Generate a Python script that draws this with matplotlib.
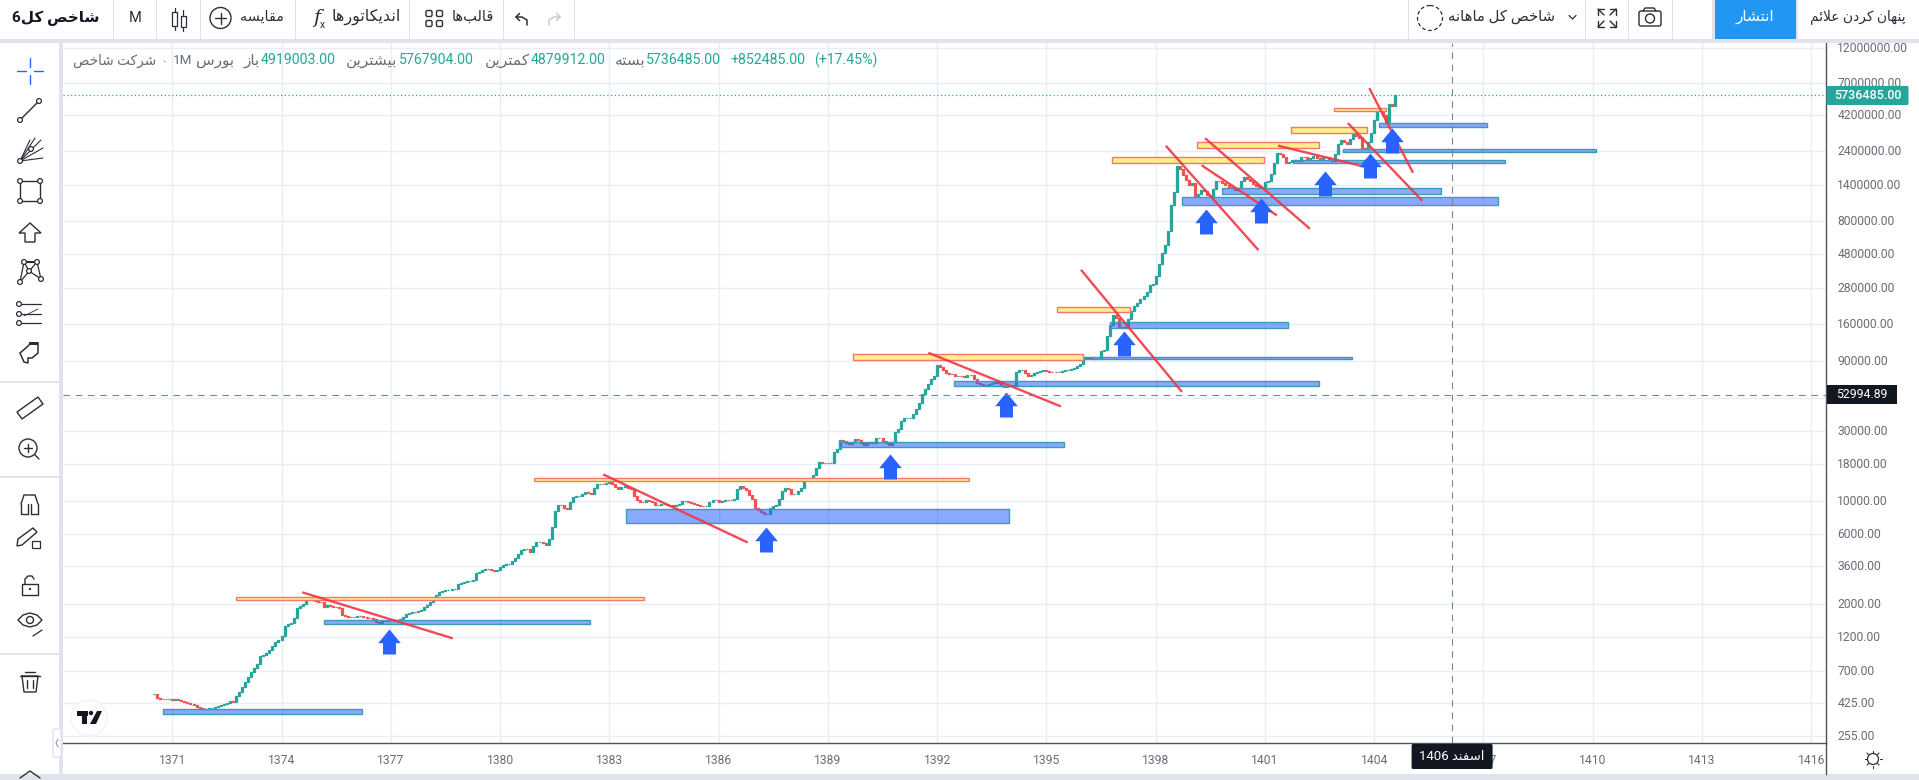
""" Monthly TEDPIX candles with hand drawn zones, recreated from a screenshot """
import re
import numpy as np
import matplotlib
matplotlib.use('Agg')
import matplotlib.pyplot as plt
from matplotlib.patches import Rectangle, Circle, Polygon, FancyBboxPatch
from matplotlib.path import Path
from matplotlib.transforms import ScaledTranslation

plt.rcParams['font.family'] = ['Roboto', 'DejaVu Sans']

# month closes, one row per 12 candles
closes = [
    486, 458, 452, 450, 450, 449, 447, 450, 445, 435, 430, 426,
    418, 412, 400, 392, 388, 388, 390, 395, 400, 404, 408, 415,
    425, 435, 433, 470, 505, 545, 590, 640, 690, 735, 775, 880,
    905, 930, 970, 1030, 1100, 1130, 1210, 1420, 1450, 1480, 1600, 1870,
    1950, 2000, 2120, 2130, 2170, 2090, 2060, 2050, 1920, 1960, 1950, 1920,
    1900, 1870, 1690, 1650, 1640, 1640, 1640, 1645, 1650, 1640, 1610, 1600,
    1590, 1500, 1480, 1540, 1540, 1550, 1550, 1555, 1545, 1590, 1640, 1700,
    1740, 1755, 1750, 1790, 1830, 1900, 1970, 2050, 2200, 2300, 2400, 2460,
    2470, 2500, 2510, 2520, 2750, 2780, 2830, 2860, 2880, 2910, 3250, 3300,
    3420, 3480, 3470, 3390, 3340, 3400, 3550, 3700, 3720, 3760, 3900, 4100,
    4350, 4680, 4750, 4740, 4500, 4950, 5250, 5300, 5200, 5050, 5550, 6650,
    8520, 9400, 9350, 8950, 8900, 9800, 10700, 10800, 10900, 11250, 11500, 11400,
    11200, 12300, 13000, 13100, 13000, 13300, 13400, 13000, 12500, 12000, 12400, 12600,
    12350, 12100, 10900, 10250, 9900, 9850, 10200, 10000, 9800, 9450, 9480, 9500,
    9500, 9480, 9400, 9300, 9450, 9600, 9950, 9950, 9820, 9700, 9550, 9400,
    9300, 9200, 9300, 9900, 10200, 10150, 9800, 10000, 10200, 10150, 10180, 10350,
    12000, 12700, 12200, 11900, 11000, 10400, 9050, 8700, 8400, 8150, 8200, 8950,
    9300, 9450, 10350, 11700, 12200, 12000, 11100, 11200, 11700, 12300, 14100, 14100,
    14100, 15000, 16700, 18400, 18200, 18100, 18100, 18150, 21500, 22700, 26100, 25800,
    25000, 24500, 25200, 26400, 25900, 25000, 24100, 24700, 25200, 24900, 26800, 26700,
    25700, 24800, 24100, 25400, 29500, 30800, 35000, 36900, 37000, 37000, 39000, 42000,
    46500, 53500, 57500, 62500, 68000, 71000, 84500, 82000, 78000, 74000, 73500, 73000,
    71000, 71000, 70500, 70200, 71500, 72000, 67500, 63800, 62500, 61500, 61800, 63000,
    64000, 66000, 63500, 61000, 60000, 60200, 60800, 62000, 75500, 77500, 78000, 74000,
    71000, 72500, 74000, 75500, 76500, 78000, 77000, 75800, 75500, 75300, 75800, 77000,
    78000, 78000, 79000, 81000, 83000, 85500, 92500, 95000, 94000, 92500, 92000, 92000,
    105000, 106000, 133000, 157000, 184000, 175000, 152000, 151000, 153000, 172000, 197000, 212000,
    222000, 238000, 250000, 263000, 295000, 298000, 340000, 412000, 484000, 550000, 690000, 1030000,
    1270000, 1890000, 1800000, 1650000, 1530000, 1400000, 1460000, 1170000, 1230000, 1300000, 1280000, 1200000,
    1190000, 1330000, 1510000, 1500000, 1450000, 1410000, 1360000, 1340000, 1310000, 1350000, 1500000, 1590000,
    1560000, 1510000, 1430000, 1390000, 1360000, 1370000, 1470000, 1500000, 1680000, 1980000, 2320000, 2300000,
    2200000, 2000000, 2020000, 2100000, 2070000, 2060000, 2190000, 2170000, 2130000, 2160000, 2210000, 2150000,
    2090000, 2190000, 2170000, 2100000, 2070000, 2290000, 2700000, 2850000, 2750000, 2700000, 2900000, 3170000,
    3050000, 2950000, 2500000, 2480000, 2750000, 3200000, 3900000, 4500000, 4600000, 4200000, 3800000, 5000000,
    4884000, 5736485,
]
first_year = 1370.5

# drawn zones: year from, year to, price low, price high
blue_from = [1370.75, 1375.17, 1383.45, 1389.31, 1392.46, 1395.97, 1396.75, 1398.72, 1399.83, 1401.78, 1403.15, 1404.14]
blue_to = [1376.2, 1382.47, 1393.97, 1395.48, 1402.49, 1403.4, 1401.64, 1407.41, 1405.83, 1407.59, 1410.08, 1407.09]
blue_low = [355.5, 1468, 7070, 23240, 60700, 92200, 149600, 1027000, 1231000, 1983000, 2355000, 3517000]
blue_high = [384, 1549, 8800, 25140, 65950, 95600, 164500, 1164000, 1340000, 2078000, 2468000, 3728000]

yellow_from = [1372.75, 1380.94, 1389.70, 1395.28, 1396.79, 1399.14, 1401.72, 1402.9]
yellow_to = [1383.95, 1392.88, 1396.0, 1397.30, 1400.98, 1402.49, 1403.81, 1404.33]
yellow_low = [2137, 13610, 90750, 194000, 2001000, 2530000, 3200000, 4520000]
yellow_high = [2220, 14300, 99660, 210000, 2198000, 2755000, 3487000, 4692000]

# red trend lines
line_x0 = [1374.6, 1382.86, 1391.79, 1395.97, 1398.3, 1399.29, 1399.38, 1401.39, 1403.3, 1403.88]
line_y0 = [2386, 15070, 101300, 369000, 2573000, 1900000, 2899000, 2601000, 3670000, 6324000]
line_x1 = [1378.67, 1386.77, 1395.37, 1398.70, 1400.8, 1401.3, 1402.21, 1403.8, 1405.3, 1405.05]
line_y1 = [1174, 5275, 44370, 56160, 516000, 886000, 720000, 1861000, 1116000, 1737000]

# blue arrows, tip position
arrow_x = [1376.94, 1387.29, 1390.71, 1393.89, 1397.13, 1399.38, 1400.89, 1402.65, 1403.88, 1404.5]
arrow_y = [1350, 6700, 20900, 54980, 144300, 965000, 1146000, 1757000, 2320000, 3432000]

price_ticks = [12000000, 7000000, 4200000, 2400000, 1400000, 800000, 480000, 280000, 160000, 90000,
               50000, 30000, 18000, 10000, 6000, 3600, 2000, 1200, 700, 425, 255]
year_ticks = list(range(1371, 1417, 3))
last_price = 5736485
cross_price = 52994.89
cross_year = 1406.14

GREEN = '#26a69a'
RED = '#ef5350'
GRAY = '#6a6d78'
BAND = '#e0e3eb'
DARK = '#131722'
ICON = '#2a2e39'

# matplotlib has no arabic shaping, so pick the presentation forms by hand
FORMS = {
    'ا': 'ﺍﺎ', 'د': 'ﺩﺪ', 'ر': 'ﺭﺮ', 'ز': 'ﺯﺰ', 'و': 'ﻭﻮ', 'ﻻ': 'ﻻﻼ',
    'ب': 'ﺏﺐﺑﺒ', 'پ': 'ﭖﭗﭘﭙ', 'ت': 'ﺕﺖﺗﺘ', 'خ': 'ﺥﺦﺧﺨ', 'س': 'ﺱﺲﺳﺴ',
    'ش': 'ﺵﺶﺷﺸ', 'ص': 'ﺹﺺﺻﺼ', 'ف': 'ﻑﻒﻓﻔ', 'ق': 'ﻕﻖﻗﻘ', 'ک': 'ﮎﮏﮐﮑ',
    'ل': 'ﻝﻞﻟﻠ', 'م': 'ﻡﻢﻣﻤ', 'ن': 'ﻥﻦﻧﻨ', 'ه': 'ﻩﻪﻫﻬ', 'ی': 'ﯼﯽﯾﯿ',
    'ئ': 'ﺉﺊﺋﺌ', 'ع': 'ﻉﻊﻋﻌ',
}


def fa(text):
    text = text.replace('لا', 'ﻻ')
    out = []
    for k, ch in enumerate(text):
        if ch not in FORMS:
            out.append(ch)
            continue
        prev = text[k - 1] if k > 0 else ''
        nxt = text[k + 1] if k + 1 < len(text) else ''
        join_prev = prev in FORMS and len(FORMS[prev]) == 4
        join_next = nxt in FORMS and len(FORMS[ch]) == 4
        if join_prev and join_next:
            out.append(FORMS[ch][3])
        elif join_prev:
            out.append(FORMS[ch][1])
        elif join_next:
            out.append(FORMS[ch][2])
        else:
            out.append(FORMS[ch][0])
    text = ''.join(out).replace('\u200c', '')
    return ''.join(reversed(re.findall(r'[0-9.]+|.', text)))


W, H = 1919, 780
fig = plt.figure(figsize=(W / 100, H / 100), dpi=100, facecolor='white')
ax = fig.add_axes([63 / W, 1 - 743.3 / H, (1826.2 - 63) / W, 700.3 / H])

# candles
closes = np.array(closes, dtype=float)
opens = np.r_[closes[0], closes[:-1]]
years = first_year + np.arange(len(closes)) / 12
colors = [GREEN if c >= o else RED for o, c in zip(opens, closes)]
ax.set_yscale('log')
ax.bar(years, np.abs(closes - opens), bottom=np.minimum(opens, closes), width=2.0 / 36.42,
       color=colors, edgecolor=colors, linewidth=0.9, zorder=3)

# drawings
for x0, x1, lo, hi in zip(blue_from, blue_to, blue_low, blue_high):
    ax.add_patch(Rectangle((x0, lo), x1 - x0, hi - lo, facecolor=(0.16, 0.38, 1, 0.55),
                           edgecolor='#3f9bb5', linewidth=1, zorder=4))
for x0, x1, lo, hi in zip(yellow_from, yellow_to, yellow_low, yellow_high):
    ax.add_patch(Rectangle((x0, lo), x1 - x0, hi - lo, facecolor='#ffee8c',
                           edgecolor='#f7766a', linewidth=1, zorder=4))
for x0, y0, x1, y1 in zip(line_x0, line_y0, line_x1, line_y1):
    ax.plot([x0, x1], [y0, y1], color='#f23645', lw=1.7, alpha=0.9, zorder=5)

# up arrow marker, tip at the origin, sizes in px
arrow_path = Path([(0, 0), (11.3, -13.7), (6.5, -13.7), (6.5, -25), (-6.5, -25), (-6.5, -13.7),
                   (-11.3, -13.7), (0, 0)], closed=True)
ax.plot(arrow_x, arrow_y, ls='none', marker=arrow_path, ms=36, mfc='#2962ff', mec='none', zorder=6)

ax.axhline(last_price, color=GREEN, ls=(0, (1, 2)), lw=0.9, zorder=2)
ax.axhline(cross_price, color='#758696', ls=(0, (6, 5)), lw=0.8, zorder=6)
ax.axvline(cross_year, color='#758696', ls=(0, (6, 5)), lw=0.8, zorder=6)

ax.set_xlim(1368.0, 1416.41)
ax.set_ylim(225.7, 13.03e6)
ax.set_yticks(price_ticks)
# the 50000 label sits under the crosshair tag in the screenshot
ax.set_yticklabels(['' if p == 50000 else f'{p}.00' for p in price_ticks])
ax.minorticks_off()
ax.set_xticks(year_ticks)
ax.set_xticklabels([str(y) for y in year_ticks])
ax.yaxis.tick_right()
ax.tick_params(axis='y', length=0, pad=8, labelsize=8.7, labelcolor=GRAY)
ax.tick_params(axis='x', length=0, pad=7.5, labelsize=8.7, labelcolor=GRAY)
nudge = ScaledTranslation(0, 1 / 100, fig.dpi_scale_trans)
for tick_label in ax.get_yticklabels():
    tick_label.set_transform(tick_label.get_transform() + nudge)
ax.grid(True, color='#e8eef4', lw=1, zorder=0)
ax.set_axisbelow(True)
for side in ['left', 'top']:
    ax.spines[side].set_visible(False)
for side in ['right', 'bottom']:
    ax.spines[side].set_color('#50535e')
    ax.spines[side].set_linewidth(1)

# screen chrome in pixel coordinates
ui = fig.add_axes([0, 0, 1, 1], facecolor='none')
ui.set_xlim(0, W)
ui.set_ylim(H, 0)
ui.axis('off')


def band(x, y, w, h, color=BAND):
    ui.add_patch(Rectangle((x, y), w, h, facecolor=color, edgecolor='none'))


def stroke(xs, ys, color=ICON, lw=1.0):
    ui.plot(xs, ys, color=color, lw=lw, solid_capstyle='round')


def dot(x, y, r=2.4):
    ui.add_patch(Circle((x, y), r, facecolor='white', edgecolor=ICON, lw=0.9, zorder=3))


def label(x, y, s, size=10, color=ICON, ha='center', **kw):
    ui.text(x, y, s, fontsize=size, color=color, ha=ha, va='center', **kw)


band(0, 39.3, W, 3.7)
band(59, 43, 4, 731)
band(0, 774, W, 6)
band(0, 381, 59, 1.5)
band(0, 476, 59, 1.5)
band(0, 653, 59, 1.5)
ui.plot([1826.2, 1826.2], [743, 774], color='#50535e', lw=1)

# top bar separators
for sx in [113, 155.5, 199.6, 294.5, 409, 503, 574, 1408, 1584.5, 1628, 1672]:
    band(sx, 0, 1, 39.3)
band(1715, 0, 81, 39.3, '#2196f3')
band(1712, 0, 3, 39.3)
band(1796, 0, 2, 39.3)

label(56, 18, fa('شاخص کل6'), size=11, color='#131722', fontweight='bold')
label(134.7, 18, 'M', size=10.5)
# candles icon
for cx, y0, y1, t, b in [(174.5, 8, 30, 12, 26), (183, 10, 31, 16, 27)]:
    stroke([cx, cx], [y0, y1], lw=0.9)
    ui.add_patch(Rectangle((cx - 2.5, t), 5, b - t, facecolor='white', edgecolor=ICON, lw=0.9, zorder=3))
ui.add_patch(Circle((220.5, 18), 10.5, facecolor='none', edgecolor=ICON, lw=1))
stroke([215, 226], [18, 18])
stroke([220.5, 220.5], [12.5, 23.5])
label(261.5, 17, fa('مقایسه'), size=10.4)
label(316.6, 18, 'f', size=14, style='italic', family=['DejaVu Serif'])
label(322.5, 25, 'x', size=7.5)
label(366, 17, fa('اندیکاتورها'), size=11.5)
for gx in [426, 436.5]:
    for gy in [10.5, 20.5]:
        ui.add_patch(FancyBboxPatch((gx, gy), 6, 6, boxstyle='round,pad=0,rounding_size=1.5',
                                    facecolor='none', edgecolor=ICON, lw=1))
label(472.5, 17, fa('قالب\u200cها'), size=10.5)
stroke([516, 522, 527, 527], [17, 17, 20, 25], lw=1.1)
stroke([519.5, 516, 519.5], [13.5, 17, 20.5], lw=1.1)
stroke([560, 554, 549, 549], [17, 17, 20, 25], color='#c8cbd2', lw=1.1)
stroke([556.5, 560, 556.5], [13.5, 17, 20.5], color='#c8cbd2', lw=1.1)

# right end of the top bar
ui.add_patch(Circle((1430, 18), 12.5, facecolor='none', edgecolor=ICON, lw=0.9, ls=(0, (3, 2))))
label(1502, 17, fa('شاخص کل ماهانه'), size=10.7)
stroke([1569, 1572.5, 1576], [15.5, 19, 15.5], lw=0.9)
for fx, fy, dx, dy in [(1598, 9, 1, 1), (1616, 9, -1, 1), (1598, 27, 1, -1), (1616, 27, -1, -1)]:
    stroke([fx + 6 * dx, fx, fx], [fy, fy, fy + 6 * dy], lw=1)
    stroke([fx, fx + 6 * dx], [fy, fy + 6 * dy], lw=1)
ui.add_patch(FancyBboxPatch((1639, 11), 22, 15, boxstyle='round,pad=0,rounding_size=2',
                            facecolor='none', edgecolor=ICON, lw=1))
stroke([1643, 1645, 1654, 1656], [11, 8, 8, 11], lw=1)
ui.add_patch(Circle((1650, 18.5), 4.5, facecolor='none', edgecolor=ICON, lw=1))
label(1755, 17, fa('انتشار'), size=11, color='white')
label(1858, 17, fa('پنهان کردن علائم'), size=9.9)

# ohlc legend over the chart
for lx, s, size in [(156, 'شرکت شاخص', 9.8), (397, 'بیشترین', 11), (530, 'کمترین', 11),
                    (646, 'بسته', 11), (260, 'باز', 11), (234, 'بورس', 11)]:
    label(lx, 61, fa(s), size=size, color=GRAY, ha='right')
label(173, 60, '1M', size=9.7, color=GRAY, ha='left')
label(164, 58.5, '.', size=9.7, color=GRAY)
label(197, 58.5, '.', size=9.7, color=GRAY)
for lx, s in [(261, '4919003.00'), (399, '5767904.00'), (531, '4879912.00'), (646, '5736485.00'),
              (730, '+852485.00'), (814, '(+17.45%)')]:
    label(lx, 60, s, size=10.2, color=GREEN, ha='left')

# value tags
ui.add_patch(FancyBboxPatch((1826.5, 86), 82, 19, boxstyle='round,pad=0,rounding_size=1.5',
                            facecolor=GREEN, edgecolor='none'))
label(1867.5, 95.3, f'{last_price}.00', size=9, color='white', fontweight='medium')
band(1826.5, 385, 70, 19, DARK)
label(1861.5, 394.8, f'{cross_price:.2f}', size=8.8, color='white')
ui.add_patch(FancyBboxPatch((1411.6, 744), 81, 25, boxstyle='round,pad=0,rounding_size=1.5',
                            facecolor=DARK, edgecolor='none', zorder=3))
label(1452, 757, fa('اسفند 1406'), size=9.5, color='white', zorder=4)

# sun icon next to the time axis
ui.add_patch(Circle((1873, 759), 5.5, facecolor='none', edgecolor=ICON, lw=0.9))
for a in np.arange(0, 2 * np.pi, np.pi / 4):
    stroke([1873 + 6.5 * np.cos(a), 1873 + 8.5 * np.cos(a)], [759 + 6.5 * np.sin(a), 759 + 8.5 * np.sin(a)], lw=0.8)

# left tools
stroke([17, 26], [71, 71], '#2962ff')
stroke([34, 43], [71, 71], '#2962ff')
stroke([30, 30], [58, 67], '#2962ff')
stroke([30, 30], [75, 84], '#2962ff')
stroke([20, 39], [120, 101])
dot(20, 120)
dot(39, 101)
for tx, ty in [(41, 140), (43, 148), (43, 158), (30, 140), (35, 138)]:
    stroke([20, tx], [161, ty], lw=0.8)
dot(20, 161)
dot(31, 149)
stroke([20, 40, 40, 20, 20], [181, 181, 201, 201, 181])
for rx, ry in [(20, 181), (40, 181), (20, 201), (40, 201)]:
    dot(rx, ry)
ui.add_patch(Polygon([(30, 223), (41, 233), (35, 233), (35, 242), (25, 242), (25, 233), (19, 233)],
                     closed=True, facecolor='none', edgecolor=ICON, lw=1))
xabcd_x, xabcd_y = [20, 24, 37, 41, 29, 24, 37, 20], [282, 262, 262, 279, 271, 262, 262, 282]
stroke(xabcd_x, xabcd_y, lw=0.9)
for rx, ry in [(20, 282), (24, 262), (37, 262), (41, 279), (29, 271)]:
    dot(rx, ry)
for fy in [304, 314, 323]:
    stroke([19, 41], [fy, fy], lw=0.9)
    dot(19, fy)
stroke([24, 38], [316, 309], lw=0.6)
ui.add_patch(Polygon([(20, 353), (27, 347), (31, 343), (38, 343), (38, 353), (32, 358), (28, 358), (28, 363), (24, 362)],
                     closed=True, facecolor='none', edgecolor=ICON, lw=1.1))
band(29, 342, 9, 3, ICON)
ui.add_patch(Polygon([(17, 412), (38, 397), (43, 404), (22, 419)], closed=True, facecolor='none', edgecolor=ICON, lw=1))
ui.add_patch(Circle((28, 448), 9, facecolor='none', edgecolor=ICON, lw=1))
stroke([24, 32], [448, 448])
stroke([28, 28], [444, 452])
stroke([35, 39], [455, 459])
stroke([21, 21], [514, 504])
stroke([38, 38], [514, 504])
stroke([21, 24, 35, 38], [504, 495, 495, 504])
stroke([28, 28], [514, 504])
stroke([31, 31], [514, 504])
stroke([21, 28], [514, 514])
stroke([31, 38], [514, 514])
ui.add_patch(Polygon([(18, 539), (33, 528), (37, 532), (22, 545), (17, 546)], closed=True,
                     facecolor='none', edgecolor=ICON, lw=1))
ui.add_patch(Rectangle((32, 541), 8, 7, facecolor='white', edgecolor=ICON, lw=0.9))
ui.add_patch(Rectangle((22, 584), 16, 11, facecolor='none', edgecolor=ICON, lw=1))
stroke([25, 25, 28, 32, 34], [584, 579, 576, 576, 579])
ui.add_patch(Circle((30, 589), 1.2, facecolor=ICON, edgecolor='none'))
ui.add_patch(Polygon([(18, 620), (23, 615), (30, 613), (37, 615), (42, 620), (37, 625), (30, 627), (23, 625)],
                     closed=True, facecolor='none', edgecolor=ICON, lw=1))
ui.add_patch(Circle((30, 620), 3.5, facecolor='none', edgecolor=ICON, lw=1))
stroke([33, 42], [636, 630], lw=0.9)
stroke([22, 38, 36, 24, 22], [676, 676, 692, 692, 676])
stroke([20, 40], [676, 676])
stroke([25, 35], [672, 672])
stroke([27, 27], [680, 688])
stroke([33, 33], [680, 688])
stroke([20, 30, 40], [778, 771, 778], lw=1)
ui.add_patch(FancyBboxPatch((53, 729), 8, 28, boxstyle='round,pad=0,rounding_size=2',
                            facecolor='white', edgecolor=BAND, lw=1))
stroke([58, 56, 58], [739, 743, 747], color='#9598a1', lw=0.8)

# chart logo
ui.add_patch(Circle((89, 718), 18, facecolor='white', edgecolor='#f0f3fa', lw=1))
band(77, 711, 11, 4.5, DARK)
band(82, 711, 5, 13, DARK)
ui.add_patch(Circle((91, 713), 2.2, facecolor=DARK, edgecolor='none'))
ui.add_patch(Polygon([(97, 711), (102, 711), (96, 724), (90, 724)], closed=True, facecolor=DARK, edgecolor='none'))

fig.savefig('out.png', dpi=100)
